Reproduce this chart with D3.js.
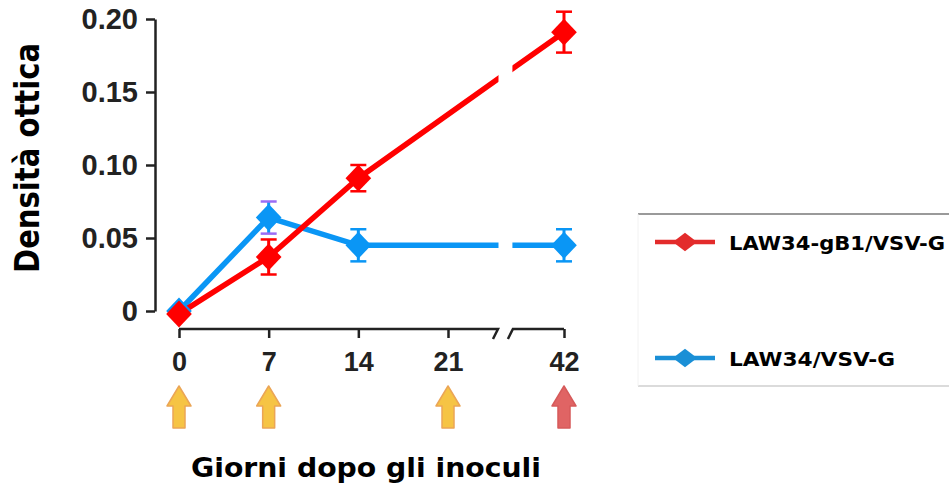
<!doctype html>
<html>
<head>
  <meta charset="utf-8">
  <script src="https://d3js.org/d3.v7.min.js"></script>
  <style>
    body { margin: 0; background: #fff; }
  </style>
</head>
<body>
<script>
  // data
  var days = [0, 7, 14, 42];
  var redValues = [-0.002, 0.037, 0.091, 0.191];
  var redErrors = [0, 0.012, 0.009, 0.014];
  var blueValues = [0, 0.064, 0.045, 0.045];
  var blueErrors = [0, 0.011, 0.011, 0.011];
  var xTicks = [0, 7, 14, 21, 42];
  var yTicks = [0, 0.05, 0.10, 0.15, 0.20];
  var yTickLabels = ["0", "0.05", "0.10", "0.15", "0.20"];
  var arrowDays = [0, 7, 21, 42];
  var arrowKinds = ["boost", "boost", "boost", "final"];
  var seriesNames = ["LAW34-gB1/VSV-G", "LAW34/VSV-G"];

  var width = 949, height = 494;
  var tickFont = "'Liberation Sans', Arial, sans-serif";
  var titleFont = "'DejaVu Sans', sans-serif";

  var svg = d3.select("body").append("svg")
    .attr("width", width)
    .attr("height", height);

  // x has a break between 21 and 42
  var x = d3.scaleLinear().domain([0, 21, 42]).range([179, 448, 564]);
  var y = d3.scaleLinear().domain([0, 0.2]).range([311, 19]);
  var breakDays = [30.05, 32.75];

  // y axis
  var yAxis = d3.axisLeft(y)
    .tickValues(yTicks)
    .tickFormat(function(d, i) { return yTickLabels[i]; })
    .tickSize(9)
    .tickSizeOuter(0)
    .tickPadding(8);

  var gy = svg.append("g")
    .attr("transform", "translate(155,0)")
    .call(yAxis);
  gy.selectAll("path, line").attr("stroke", "#222").attr("stroke-width", 2.5);
  gy.selectAll("text")
    .attr("font-family", tickFont)
    .attr("font-weight", "bold")
    .attr("font-size", 29)
    .attr("fill", "#222");

  // x axis, domain drawn by hand for the break
  var xAxis = d3.axisBottom(x)
    .tickValues(xTicks)
    .tickSize(9)
    .tickSizeOuter(0)
    .tickPadding(14);

  var gx = svg.append("g")
    .attr("transform", "translate(0,329)")
    .call(xAxis);
  gx.select(".domain").remove();
  gx.selectAll("line").attr("stroke", "#222").attr("stroke-width", 2.5);
  gx.selectAll("text")
    .attr("font-family", tickFont)
    .attr("font-weight", "bold")
    .attr("font-size", 27)
    .attr("fill", "#222");

  var b0 = x(breakDays[0]), b1 = x(breakDays[1]);
  gx.append("path")
    .attr("d", "M" + x(0) + ",0H" + b0 + "l-5,10")
    .attr("fill", "none").attr("stroke", "#222").attr("stroke-width", 2.5);
  gx.append("path")
    .attr("d", "M" + (b1 - 5) + ",10l5,-10H" + x(42))
    .attr("fill", "none").attr("stroke", "#222").attr("stroke-width", 2.5);

  // lines
  var series = [
    { name: seriesNames[0], values: redValues, errors: redErrors, color: "#ff0000", capColor: "#ff0000" },
    { name: seriesNames[1], values: blueValues, errors: blueErrors, color: "#0a96f5", capColor: "#0a96f5" }
  ];

  var line = d3.line()
    .x(function(d) { return x(d.day); })
    .y(function(d) { return y(d.value); });

  // blue first, red on top
  [series[1], series[0]].forEach(function(s) {
    var pts = days.map(function(d, i) { return { day: d, value: s.values[i], err: s.errors[i] }; });
    s.pts = pts;
    svg.append("path")
      .datum(pts)
      .attr("d", line)
      .attr("fill", "none")
      .attr("stroke", s.color)
      .attr("stroke-width", 5.5);
  });

  // white gap through the lines at the axis break
  svg.append("rect")
    .attr("x", b0 + 0.5)
    .attr("y", 0)
    .attr("width", b1 - b0 - 1)
    .attr("height", 322)
    .attr("fill", "#fff");

  var diamond = d3.symbol().type(d3.symbolDiamond2).size(420);

  [series[1], series[0]].forEach(function(s) {
    var g = svg.append("g");
    var eb = s.pts.filter(function(d) { return d.err > 0; });
    g.selectAll(".stem").data(eb).enter().append("line")
      .attr("x1", function(d) { return x(d.day); })
      .attr("x2", function(d) { return x(d.day); })
      .attr("y1", function(d) { return y(d.value + d.err); })
      .attr("y2", function(d) { return y(d.value - d.err); })
      .attr("stroke", s.color).attr("stroke-width", 3);
    [1, -1].forEach(function(sign) {
      g.selectAll(".cap" + sign).data(eb).enter().append("line")
        .attr("x1", function(d) { return x(d.day) - 8; })
        .attr("x2", function(d) { return x(d.day) + 8; })
        .attr("y1", function(d) { return y(d.value + sign * d.err); })
        .attr("y2", function(d) { return y(d.value + sign * d.err); })
        .attr("stroke", function(d) { return (s === series[1] && d.day === 7) ? "#9a6cf5" : s.capColor; })
        .attr("stroke-width", 2.5);
    });
    g.selectAll("path").data(s.pts).enter().append("path")
      .attr("d", diamond)
      .attr("transform", function(d) { return "translate(" + x(d.day) + "," + y(d.value) + ") scale(1,1.05)"; })
      .attr("fill", s.color);
  });

  // arrows under the x axis
  var arrowTop = 386;
  function arrowPath(cx) {
    return "M" + cx + "," + arrowTop +
      "L" + (cx + 12) + "," + (arrowTop + 20) +
      "L" + (cx + 6) + "," + (arrowTop + 20) +
      "L" + (cx + 6) + "," + (arrowTop + 42) +
      "L" + (cx - 6) + "," + (arrowTop + 42) +
      "L" + (cx - 6) + "," + (arrowTop + 20) +
      "L" + (cx - 12) + "," + (arrowTop + 20) + "Z";
  }
  svg.selectAll(".arrow").data(arrowDays).enter().append("path")
    .attr("d", function(d) { return arrowPath(x(d)); })
    .attr("fill", function(d, i) { return arrowKinds[i] === "final" ? "#e06464" : "#f6c444"; })
    .attr("stroke", function(d, i) { return arrowKinds[i] === "final" ? "#d65a5a" : "#eba556"; })
    .attr("stroke-width", 1.5)
    .attr("stroke-linejoin", "round");

  // axis titles
  svg.append("text")
    .attr("transform", "translate(39,158) rotate(-90)")
    .attr("text-anchor", "middle")
    .attr("font-family", titleFont)
    .attr("font-weight", "bold")
    .attr("font-size", 34)
    .attr("textLength", 230)
    .attr("lengthAdjust", "spacingAndGlyphs")
    .attr("fill", "#000")
    .text("Densità ottica");

  svg.append("text")
    .attr("x", 366)
    .attr("y", 477)
    .attr("text-anchor", "middle")
    .attr("font-family", titleFont)
    .attr("font-weight", "bold")
    .attr("font-size", 27)
    .attr("textLength", 350)
    .attr("lengthAdjust", "spacingAndGlyphs")
    .attr("fill", "#000")
    .text("Giorni dopo gli inoculi");

  // legend
  var legend = svg.append("g");
  legend.append("line").attr("x1", 638).attr("x2", 949).attr("y1", 214).attr("y2", 214)
    .attr("stroke", "#9a9a9a").attr("stroke-width", 2);
  legend.append("line").attr("x1", 638).attr("x2", 949).attr("y1", 386).attr("y2", 386)
    .attr("stroke", "#cfcfcf").attr("stroke-width", 1.5);
  legend.append("line").attr("x1", 638).attr("x2", 638).attr("y1", 214).attr("y2", 386)
    .attr("stroke", "#f2f2f2").attr("stroke-width", 1);

  var legendColors = ["#e32b2b", "#1a8fd6"];
  var legendY = [242, 358];
  var legendWidths = [216, 166];
  seriesNames.forEach(function(name, i) {
    var g = legend.append("g").attr("transform", "translate(0," + legendY[i] + ")");
    g.append("line").attr("x1", 655).attr("x2", 715).attr("y1", 0).attr("y2", 0)
      .attr("stroke", legendColors[i]).attr("stroke-width", 4.5);
    g.append("path")
      .attr("d", d3.symbol().type(d3.symbolDiamond2).size(220))
      .attr("transform", "translate(685,0) scale(1.3,1)")
      .attr("fill", legendColors[i]);
    g.append("text")
      .attr("x", 729)
      .attr("y", 8)
      .attr("font-family", titleFont)
      .attr("font-weight", "bold")
      .attr("font-size", 20)
      .attr("textLength", legendWidths[i])
      .attr("lengthAdjust", "spacingAndGlyphs")
      .attr("fill", "#000")
      .text(name);
  });
</script>
</body>
</html>
